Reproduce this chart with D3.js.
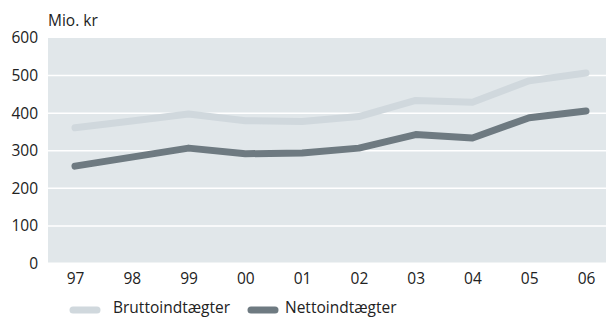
<!DOCTYPE html>
<html><head><meta charset="utf-8">
<script src="https://cdn.jsdelivr.net/npm/d3@7"></script>
<style>
html,body{margin:0;padding:0;background:#fff;}
svg{display:block;font-family:"Open Sans",sans-serif;}
</style></head>
<body><svg id="c" width="606" height="318"></svg>
<script>
const years = ["97","98","99","00","01","02","03","04","05","06"];
const brutto = [361, 379, 398, 380, 378, 391, 434, 429, 486, 507];
const netto  = [259, 283, 307, 292, 294, 307, 343, 334, 388, 406];
const yTicks = [0,100,200,300,400,500,600];
const seriesNames = ["Bruttoindtægter","Nettoindtægter"];
const colors = ["#d0d8dd","#6e7a81"];

const svg = d3.select("#c");
const plotL = 48, plotR = 606;
const x = d3.scalePoint().domain(years).range([75, 586]);
const y = d3.scaleLinear().domain([0,600]).range([263.5, 38]);

svg.append("rect").attr("x",plotL).attr("y",y(600)).attr("width",plotR-plotL).attr("height",y(0)-y(600)-1).attr("fill","#e1e7ea");

svg.append("g").selectAll("line").data(yTicks.filter(d=>d>0 && d<600)).join("line")
  .attr("x1",plotL).attr("x2",plotR).attr("y1",d=>y(d)).attr("y2",d=>y(d))
  .attr("stroke","#fff").attr("stroke-width",1.5);

const yAxis = svg.append("g").attr("transform",`translate(${plotL},0)`)
  .call(d3.axisLeft(y).tickValues(yTicks).tickSize(0).tickPadding(10));
yAxis.select(".domain").remove();
yAxis.selectAll("text").attr("font-size",15.5).attr("fill","#222").attr("font-family","Open Sans, sans-serif");

const xAxis = svg.append("g").attr("transform",`translate(0,${y(0)})`)
  .call(d3.axisBottom(x).tickSize(0).tickPadding(9));
xAxis.select(".domain").remove();
xAxis.selectAll("text").attr("font-size",15.5).attr("fill","#222").attr("font-family","Open Sans, sans-serif");

svg.append("text").attr("x",plotL).attr("y",26).attr("font-size",15.5).attr("fill","#222").text("Mio. kr");

const line = d3.line().x((d,i)=>x(years[i])).y(d=>y(d));
[brutto, netto].forEach((s,i)=>{
  svg.append("path").attr("d",line(s)).attr("fill","none").attr("stroke",colors[i])
    .attr("stroke-width",7).attr("stroke-linecap","round").attr("stroke-linejoin","round");
});

const legX = [70, 248];
seriesNames.forEach((n,i)=>{
  svg.append("line").attr("x1",legX[i]+3).attr("x2",legX[i]+27).attr("y1",310).attr("y2",310)
    .attr("stroke",colors[i]).attr("stroke-width",7).attr("stroke-linecap","round");
  svg.append("text").attr("x",legX[i]+(i===0?43:37)).attr("y",313).attr("font-size",15.5).attr("fill","#222").text(n);
});
</script></body></html>
